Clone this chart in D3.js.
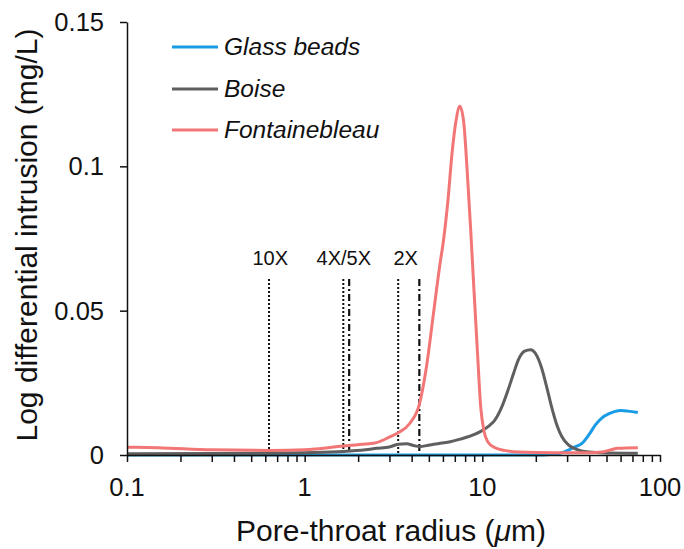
<!DOCTYPE html>
<html><head><meta charset="utf-8">
<script src="https://cdn.jsdelivr.net/npm/d3@7"></script>
<style>body{margin:0;background:#fff}svg{display:block}text{font-family:"Liberation Sans",Arial,Helvetica,sans-serif}</style>
</head><body><svg id="c" width="684" height="549"></svg>
<script>
const seriesNames = ["Glass beads", "Boise", "Fontainebleau"];
const seriesColors = ["#1a9be6", "#5f5f5f", "#f27676"];

const glassX = [0.1, 1, 10, 20, 24, 28, 30.5, 33, 36.5, 40, 43.4, 47, 51.7, 56, 60.3, 66, 75];
const glassY = [0, 0, 0, 0, 0.0002, 0.0008, 0.0017, 0.0027, 0.0041, 0.0072, 0.0105, 0.0128, 0.0143, 0.0151, 0.0154, 0.0152, 0.0147];

const boiseX = [0.1, 0.3, 0.6, 1, 1.65, 2.2, 2.54, 3.0, 3.36, 3.75, 4.1, 4.42, 5.07, 5.8, 6.6, 7.5, 8.6, 9.8, 11, 11.7, 12.8, 13.9, 15, 15.9, 17.3, 18.7, 20, 21.5, 23, 24.6, 26.3, 28, 30.5, 33.4, 39.8, 50, 75];
const boiseY = [0.0004, 0.0005, 0.0006, 0.0008, 0.0012, 0.0018, 0.0023, 0.0028, 0.0037, 0.0039, 0.0033, 0.0029, 0.0035, 0.0041, 0.0046, 0.0055, 0.0066, 0.0082, 0.0103, 0.0119, 0.0163, 0.0222, 0.0283, 0.0328, 0.0360, 0.0365, 0.0350, 0.0304, 0.0237, 0.0164, 0.0103, 0.0064, 0.0035, 0.0021, 0.0010, 0.0007, 0.0006];

const fontX = [0.1, 0.15, 0.3, 0.63, 1, 1.65, 2.2, 2.54, 3.0, 3.36, 3.91, 4.42, 4.86, 5.3, 5.77, 6.05, 6.4, 6.74, 7.1, 7.47, 7.85, 8.22, 8.6, 8.97, 9.4, 9.8, 10.2, 10.7, 11.8, 13.3, 16, 25, 40, 47, 53, 58, 75];
const fontY = [0.0027, 0.0025, 0.0018, 0.0016, 0.0018, 0.0031, 0.0038, 0.0043, 0.0062, 0.0077, 0.011, 0.0175, 0.031, 0.0487, 0.066, 0.0745, 0.088, 0.104, 0.1155, 0.1208, 0.1155, 0.0983, 0.078, 0.0573, 0.035, 0.0164, 0.0085, 0.0047, 0.0025, 0.0016, 0.0010, 0.0008, 0.0008, 0.0010, 0.0018, 0.0023, 0.0025];

const refLabels = ["10X", "4X/5X", "2X"];
const refLabelX = [0.64, 1.66, 3.7];
const dottedX = [0.63, 1.65, 3.36];
const dashDotX = [1.78, 4.42];

const xTickValues = [0.1, 1, 10, 100];
const xTickLabels = ["0.1", "1", "10", "100"];
const yTickValues = [0, 0.05, 0.1, 0.15];
const yTickLabels = ["0", "0.05", "0.1", "0.15"];

const svg = d3.select("#c");
const x = d3.scaleLog().domain([0.1, 100]).range([127, 660]);
const y = d3.scaleLinear().domain([0, 0.15]).range([455, 22]);

// reference lines
const refTop = 279;
svg.selectAll(".dot").data(dottedX).enter().append("line")
  .attr("x1", d => x(d)).attr("x2", d => x(d)).attr("y1", refTop).attr("y2", y(0))
  .attr("stroke", "#111").attr("stroke-width", 2).attr("stroke-dasharray", "2,2");
svg.selectAll(".dd").data(dashDotX).enter().append("line")
  .attr("x1", d => x(d)).attr("x2", d => x(d)).attr("y1", refTop).attr("y2", y(0))
  .attr("stroke", "#111").attr("stroke-width", 2.2).attr("stroke-dasharray", "7,3,2,3");
svg.selectAll(".rl").data(refLabels).enter().append("text")
  .attr("x", (d, i) => x(refLabelX[i])).attr("y", 265).attr("text-anchor", "middle")
  .attr("font-size", 20).attr("fill", "#111").text(d => d);

// curves
const line = d3.line().x(d => x(d[0])).y(d => y(d[1])).curve(d3.curveMonotoneX);
const datasets = [
  d3.zip(glassX, glassY),
  d3.zip(boiseX, boiseY),
  d3.zip(fontX, fontY)
];
datasets.forEach((ds, i) => {
  svg.append("path").datum(ds).attr("d", line).attr("fill", "none")
    .attr("stroke", seriesColors[i]).attr("stroke-width", 3).attr("stroke-linejoin", "round");
});

// axes
const xAxis = svg.append("g").attr("transform", `translate(0,${y(0)})`);
const minor = [];
[0.1, 1, 10].forEach(dec => { for (let k = 2; k <= 9; k++) minor.push(dec * k); });
xAxis.call(d3.axisBottom(x).tickValues(xTickValues.concat(minor)).tickFormat(() => "").tickSize(7).tickSizeOuter(0));
xAxis.selectAll("path,line").attr("stroke", "#111").attr("stroke-width", 1.5);
svg.selectAll(".xl").data(xTickValues).enter().append("text")
  .attr("x", d => x(d)).attr("y", 496).attr("text-anchor", "middle").attr("font-size", 25.5).attr("fill", "#111")
  .text((d, i) => xTickLabels[i]);

const yAxis = svg.append("g").attr("transform", `translate(${x(0.1)},0)`);
yAxis.call(d3.axisLeft(y).tickValues(yTickValues).tickFormat(() => "").tickSize(7).tickSizeOuter(0));
yAxis.selectAll("path,line").attr("stroke", "#111").attr("stroke-width", 1.5);
svg.selectAll(".yl").data(yTickValues).enter().append("text")
  .attr("x", 104).attr("y", d => y(d) + 9).attr("text-anchor", "end").attr("font-size", 25.5).attr("fill", "#111")
  .text((d, i) => yTickLabels[i]);

// titles
const xt = svg.append("text").attr("x", 391).attr("y", 541).attr("text-anchor", "middle").attr("font-size", 30).attr("fill", "#111");
xt.append("tspan").text("Pore-throat radius (");
xt.append("tspan").attr("font-style", "italic").text("μ");
xt.append("tspan").text("m)");
svg.append("text").attr("transform", "translate(37,235) rotate(-90)").attr("text-anchor", "middle")
  .attr("font-size", 30).attr("fill", "#111").text("Log differential intrusion (mg/L)");

// legend
const legY = [47, 89, 130];
seriesNames.forEach((n, i) => {
  svg.append("line").attr("x1", 172).attr("x2", 218).attr("y1", legY[i]).attr("y2", legY[i])
    .attr("stroke", seriesColors[i]).attr("stroke-width", 3);
  svg.append("text").attr("x", 224).attr("y", legY[i] + 8).attr("font-size", 24.5).attr("font-style", "italic")
    .attr("fill", "#111").text(n);
});
</script></body></html>
